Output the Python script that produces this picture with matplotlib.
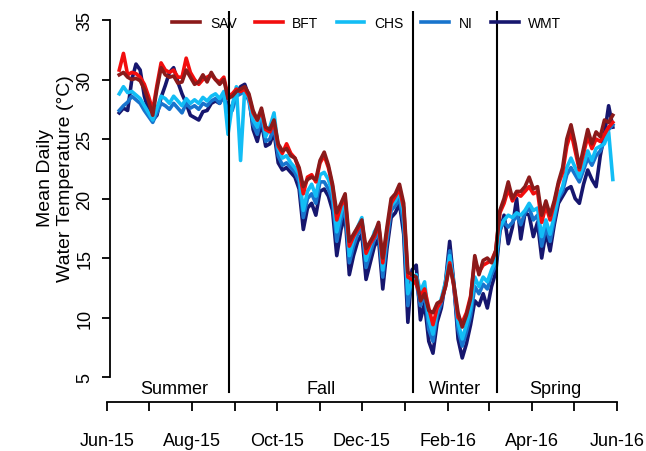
import numpy as np
import pandas as pd
import matplotlib
matplotlib.use('Agg')
import matplotlib.pyplot as plt
import matplotlib.dates as mdates
from matplotlib.ticker import FuncFormatter

plt.rcParams['font.family'] = ['Liberation Sans', 'DejaVu Sans']

# mean daily water temperature (deg C), read every 3 days from 10 Jun 2015
dates = pd.date_range('2015-06-10', periods=119, freq='3D')

sav = [30.4, 30.6, 30.2, 30.0, 30.1, 29.9, 29.2, 28.2, 27.0, 29.2,
       31.0, 30.4, 30.2, 30.3, 29.7, 29.8, 30.8, 30.2, 29.6, 29.8,
       30.4, 29.8, 30.6, 30.0, 29.6, 30.0, 28.4, 28.6, 29.0, 29.2,
       29.4, 28.8, 27.4, 26.6, 27.6, 26.0, 25.8, 26.6, 24.6, 24.0,
       24.2, 23.6, 23.4, 22.6, 21.0, 21.6, 21.8, 21.6, 23.2, 23.9,
       22.8, 21.2, 18.8, 19.6, 20.4, 16.4, 17.0, 17.6, 18.2, 15.8,
       16.4, 17.0, 18.0, 15.0, 17.6, 20.0, 20.4, 21.2, 19.6, 13.8,
       13.6, 13.4, 11.4, 12.0, 10.6, 10.4, 11.2, 11.4, 12.6, 14.4,
       12.8, 10.4, 9.2, 10.2, 11.6, 15.2, 13.6, 14.8, 15.0, 14.6,
       15.6, 19.0, 20.0, 21.4, 20.0, 20.6, 20.6, 21.0, 21.8, 20.8,
       21.0, 18.6, 19.8, 18.6, 19.8, 21.4, 22.6, 25.0, 26.2, 24.6,
       22.6, 24.2, 25.8, 24.6, 25.6, 25.2, 26.6, 26.4, 27.0]

bft = [30.8, 32.2, 30.4, 30.6, 30.5, 30.2, 29.6, 28.6, 27.4, 29.5,
       31.4, 30.8, 30.6, 30.8, 30.2, 30.2, 31.8, 30.6, 30.0, 29.6,
       30.0, 30.2, 30.4, 30.0, 29.8, 30.2, 28.6, 28.8, 29.2, 29.0,
       29.2, 28.6, 27.2, 26.6, 27.4, 25.8, 25.6, 26.4, 24.4, 23.8,
       24.6, 23.8, 23.4, 22.4, 20.4, 21.8, 22.0, 21.4, 23.0, 23.6,
       22.6, 21.0, 18.2, 19.4, 20.0, 16.0, 16.8, 17.4, 18.0, 15.4,
       16.2, 16.8, 17.8, 14.6, 17.2, 19.6, 20.2, 20.8, 19.2, 13.4,
       13.2, 12.8, 11.8, 12.4, 10.8, 9.4, 10.8, 11.4, 12.6, 14.6,
       12.6, 10.0, 9.6, 10.4, 11.8, 14.8, 13.8, 14.4, 14.6, 14.8,
       15.6, 18.8, 19.6, 20.8, 19.8, 20.4, 20.2, 20.6, 21.0, 20.4,
       20.6, 18.0, 19.4, 18.2, 19.6, 21.2, 22.2, 24.4, 25.6, 24.0,
       22.4, 23.8, 25.2, 24.2, 25.0, 24.8, 25.4, 26.0, 26.4]

chs = [28.8, 29.4, 28.9, 29.0, 28.7, 28.4, 27.8, 27.2, 26.6, 27.6,
       28.6, 28.4, 28.0, 28.6, 28.2, 27.8, 28.4, 28.0, 28.3, 28.0,
       28.5, 28.2, 28.6, 28.8, 28.4, 29.0, 25.4, 27.8, 29.4, 23.2,
       29.2, 28.4, 26.6, 26.0, 27.4, 25.2, 26.0, 27.2, 24.2, 23.4,
       23.6, 23.0, 22.6, 22.0, 19.0, 20.6, 21.2, 20.2, 22.0, 22.2,
       21.6, 20.4, 17.2, 18.8, 19.8, 15.2, 16.6, 17.6, 18.4, 14.8,
       16.0, 17.2, 17.8, 14.0, 17.0, 19.4, 19.8, 20.6, 18.6, 12.0,
       13.0, 13.6, 12.2, 13.0, 9.8, 8.6, 10.6, 11.6, 13.0, 15.2,
       12.8, 9.6, 8.2, 9.4, 10.8, 13.4, 12.6, 13.4, 13.0, 14.0,
       14.8, 17.6, 18.2, 18.6, 18.4, 18.8, 18.6, 19.0, 19.6, 19.0,
       19.2, 16.8, 18.2, 17.0, 18.6, 20.2, 21.0, 22.6, 23.4, 22.6,
       21.8, 22.8, 24.0, 23.2, 24.2, 24.4, 24.6, 25.6, 21.6]

ni = [27.4, 27.8, 28.1, 28.6, 28.3, 28.0, 27.4, 26.9, 26.4, 27.2,
      28.0, 27.8, 27.5, 28.0, 27.6, 27.2, 28.0, 27.6, 27.8, 27.5,
      28.0, 27.8, 28.2, 28.4, 28.0, 28.6, 27.2, 27.4, 28.6, 28.8,
      29.0, 28.2, 26.2, 25.4, 26.8, 24.8, 25.0, 26.0, 23.6, 22.8,
      23.0, 22.6, 22.2, 21.4, 18.4, 20.0, 20.4, 19.6, 21.4, 21.4,
      20.8, 19.8, 16.4, 18.2, 19.2, 14.6, 16.0, 17.0, 17.6, 14.2,
      15.4, 16.6, 17.2, 13.4, 16.4, 19.0, 19.4, 20.0, 17.8, 11.0,
      13.4, 13.0, 11.0, 12.0, 9.0, 8.0, 10.2, 11.2, 12.8, 15.6,
      12.6, 9.0, 7.6, 8.8, 10.2, 12.6, 12.0, 12.8, 12.4, 13.6,
      14.4, 17.4, 18.0, 17.6, 18.0, 18.6, 17.8, 18.8, 19.2, 18.2,
      18.6, 16.0, 17.6, 16.4, 18.2, 20.0, 20.6, 22.0, 22.6, 22.0,
      21.4, 22.4, 23.4, 22.8, 23.6, 24.0, 24.8, 25.8, 26.2]

wmt = [27.2, 27.6, 27.4, 30.0, 31.3, 30.8, 28.6, 27.4, 26.6, 27.0,
       28.5, 29.5, 30.6, 31.0, 29.8, 28.8, 28.0, 27.0, 26.8, 26.6,
       27.3, 27.4, 28.0, 28.2, 28.0, 28.8, 27.6, 27.8, 28.8, 29.4,
       29.6, 28.6, 25.8, 24.8, 26.4, 24.4, 24.6, 25.6, 23.0, 22.4,
       22.6, 22.2, 21.8, 20.8, 17.4, 19.2, 19.6, 18.6, 20.6, 20.8,
       20.2, 19.0, 15.2, 17.4, 18.6, 13.6, 15.2, 16.4, 17.0, 13.2,
       14.6, 16.0, 16.6, 12.4, 15.8, 18.4, 18.8, 19.6, 17.0, 9.6,
       14.0, 14.4, 9.8, 11.2, 8.0, 7.0, 9.6, 10.8, 13.0, 16.4,
       12.8, 8.2, 6.6, 7.8, 9.4, 11.4, 11.0, 12.0, 10.8, 12.6,
       13.8, 17.2, 18.6, 16.2, 17.6, 20.0, 16.6, 18.8, 18.6, 16.8,
       18.0, 15.0, 17.2, 15.6, 17.8, 19.6, 20.2, 20.8, 21.0, 20.0,
       19.6, 21.2, 22.4, 21.6, 21.0, 23.6, 25.4, 27.8, 26.0]

sites = ['SAV', 'BFT', 'CHS', 'NI', 'WMT']
temps = {'SAV': sav, 'BFT': bft, 'CHS': chs, 'NI': ni, 'WMT': wmt}
colors = {'SAV': '#8B1A1A', 'BFT': '#F20D0D', 'CHS': '#12BDF5',
          'NI': '#1874CD', 'WMT': '#16166E'}

season_names = ['Summer', 'Fall', 'Winter', 'Spring']
season_breaks = pd.to_datetime(['2015-08-28', '2016-01-07', '2016-03-07'])

fig = plt.figure(figsize=(6.46, 4.52), dpi=100)
ax = fig.add_axes([0.1652, 0.1084, 0.7899, 0.865])

ymin, ymax = 2.9, 35.76
lines = {}
for site in ['WMT', 'NI', 'CHS', 'BFT', 'SAV']:
    lines[site], = ax.plot(dates, temps[site], color=colors[site], lw=2.6,
                           solid_joinstyle='round')

x0 = pd.Timestamp('2015-06-01')
x1 = pd.Timestamp('2016-06-01')
ax.set_xlim(x0, x1)
ax.set_ylim(ymin, ymax)

# season dividers and labels
for b in season_breaks:
    ax.axvline(b, ymin=(3.74 - ymin) / (ymax - ymin), ymax=1, color='black', lw=1.5)
edges = mdates.date2num([dates[0]] + list(season_breaks) + [dates[-1]])
for name, a, b in zip(season_names, edges[:-1], edges[1:]):
    ax.text((a + b) / 2, 4.0, name, ha='center', va='center', fontsize=13)

for s in ['top', 'right']:
    ax.spines[s].set_visible(False)
ax.spines['left'].set_position(('data', mdates.date2num(pd.Timestamp('2015-06-03 10:00'))))
ax.spines['left'].set_bounds(5, 35)
ax.spines['bottom'].set_bounds(mdates.date2num(x0), mdates.date2num(x1))
for s in ['left', 'bottom']:
    ax.spines[s].set_linewidth(1.3)

ax.set_yticks(range(5, 36, 5))
ax.set_yticklabels([str(v) for v in range(5, 36, 5)], rotation=90, va='center')
ax.xaxis.set_major_locator(mdates.MonthLocator())


def month_label(x, pos):
    d = mdates.num2date(x)
    return d.strftime('%b-%y') if d.month % 2 == 0 else ''


ax.xaxis.set_major_formatter(FuncFormatter(month_label))
ax.tick_params(axis='x', length=6.5, width=1.3, pad=15, labelsize=13)
ax.tick_params(axis='y', length=6, width=1.3, pad=6, labelsize=13)

ax.text(-0.100, 0.575, 'Mean Daily\nWater Temperature (°C)', transform=ax.transAxes,
        rotation=90, ha='center', va='center', fontsize=14, linespacing=1.25,
        multialignment='center')

fig.legend([lines[s] for s in sites], sites, loc='center', bbox_to_anchor=(0.568, 0.947),
           ncol=5, frameon=False, fontsize=10, handlelength=2.0, handletextpad=0.7,
           columnspacing=1.3)

fig.savefig('out.png', dpi=100)
